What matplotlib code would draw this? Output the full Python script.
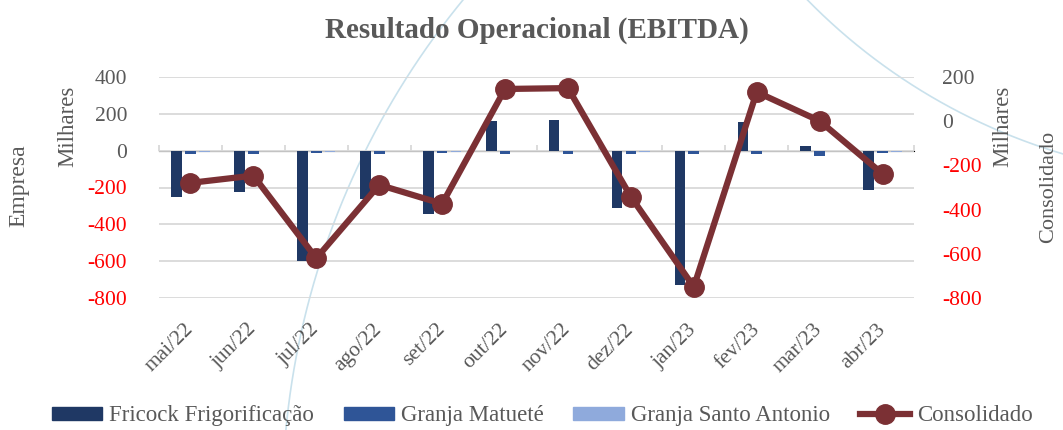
import numpy as np
import matplotlib
matplotlib.use("Agg")
import matplotlib.pyplot as plt
from matplotlib.lines import Line2D
from matplotlib.patches import Patch

plt.rcParams['font.family'] = ['Liberation Serif', 'DejaVu Serif']

# data (milhares)
months = ['mai/22', 'jun/22', 'jul/22', 'ago/22', 'set/22', 'out/22',
          'nov/22', 'dez/22', 'jan/23', 'fev/23', 'mar/23', 'abr/23']
fricock = [-250, -225, -600, -260, -345, 162, 170, -310, -733, 155, 26, -214]
matuete = [-15, -15, -10, -15, -12, -20, -15, -18, -15, -18, -27, -12]
santo_antonio = [-8, -2, -5, -3, -8, 0, 0, -5, 0, 0, 0, -5]
consolidado = [-279, -246, -621, -288, -374, 147, 151, -342, -751, 133, 2, -238]

left_ticks = [400, 200, 0, -200, -400, -600, -800]
right_ticks = [200, 0, -200, -400, -600, -800]

gray = '#595959'
c_fricock = '#1F3864'
c_matuete = '#2F5597'
c_santo = '#8FAADC'
c_cons = '#7B3034'

W, H = 1063, 430
fig = plt.figure(figsize=(W / 100, H / 100), dpi=100)
ax = fig.add_axes([159 / W, 1 - 297.7 / H, (914 - 159) / W, (297.7 - 77.3) / H])
ax.patch.set_alpha(0)

# background arcs of the slide (pixel circle -> figure coords)
def arc(cx, cy, r, a0, a1):
    t = np.linspace(np.radians(a0), np.radians(a1), 200)
    xs = (cx + r * np.cos(t)) / W
    ys = 1 - (cy + r * np.sin(t)) / H
    fig.add_artist(Line2D(xs, ys, color='#C9E1EC', lw=1.2, zorder=0))

arc(1077.0, 504.3, 794.6, 184, 220)
arc(1233.0, -417.3, 596, 90 + 10, 90 + 46)

x = np.arange(len(months))
w = 0.17
ax.bar(x - 0.22, fricock, w, color=c_fricock, zorder=2)
ax.bar(x, matuete, w, color=c_matuete, zorder=2)
ax.bar(x + 0.22, santo_antonio, w, color=c_santo, zorder=2)

ax.set_xlim(-0.5, len(months) - 0.5)
ax.set_ylim(-800, 400)
ax.set_yticks(left_ticks, [f'{v}' for v in left_ticks])
for lbl, v in zip(ax.get_yticklabels(), left_ticks):
    lbl.set_color('#FF0000' if v < 0 else gray)
ax.tick_params(axis='y', length=0, pad=23, labelsize=15.5)
ax.grid(axis='y', color='#D9D9D9', lw=1.3, zorder=0)
ax.set_axisbelow(True)
for s in ax.spines.values():
    s.set_visible(False)

ax.set_xticks(x, months, rotation=45, ha='right', va='center',
              rotation_mode='anchor', color=gray, fontsize=15.5)
ax.tick_params(axis='x', length=0, pad=21)

# horizontal axis line at zero with category boundary ticks
zero_loc = (0 - (-800)) / 1200
sec = ax.secondary_xaxis(zero_loc)
sec.set_xticks(np.arange(-0.5, len(months), 1.0), [''] * (len(months) + 1))
sec.tick_params(axis='x', direction='out', length=4, color='#D9D9D9', width=1.3)
sec.spines['bottom'].set_color('#D9D9D9')
sec.spines['bottom'].set_linewidth(1.3)

ax2 = ax.twinx()
ax2.plot(x, consolidado, color=c_cons, lw=4.5, marker='o', markersize=14, zorder=3)
ax2.set_ylim(-800, 200)
ax2.set_yticks(right_ticks, [f'{v}' for v in right_ticks])
for lbl, v in zip(ax2.get_yticklabels(), right_ticks):
    lbl.set_color('#FF0000' if v < 0 else gray)
ax2.tick_params(axis='y', length=0, pad=20, labelsize=15.5)
for s in ax2.spines.values():
    s.set_visible(False)

fig.text(537 / W, 1 - 30 / H, 'Resultado Operacional (EBITDA)', ha='center', va='center',
         fontsize=21, fontweight='bold', color=gray)
fig.text(19 / W, 1 - 186 / H, 'Empresa', rotation=90, ha='center', va='center',
         fontsize=17, color=gray)
fig.text(68 / W, 1 - 126 / H, 'Milhares', rotation=90, ha='center', va='center',
         fontsize=16.5, color=gray)
fig.text(1003 / W, 1 - 126 / H, 'Milhares', rotation=90, ha='center', va='center',
         fontsize=16.5, color=gray)
fig.text(1049 / W, 1 - 187 / H, 'Consolidado', rotation=90, ha='center', va='center',
         fontsize=16, color=gray)

handles = [Patch(color=c_fricock), Patch(color=c_matuete), Patch(color=c_santo),
           Line2D([], [], color=c_cons, lw=4.5, marker='o', markersize=14)]
labels = ['Fricock Frigorificação', 'Granja Matueté', 'Granja Santo Antonio', 'Consolidado']
leg = fig.legend(handles, labels, loc='center', bbox_to_anchor=(0.51, 0.033), ncol=4,
                 frameon=False, fontsize=16.5, handlelength=2.2, handleheight=0.5,
                 handletextpad=0.3, columnspacing=1.3)
for t in leg.get_texts():
    t.set_color(gray)

fig.savefig('out.png', dpi=100)
